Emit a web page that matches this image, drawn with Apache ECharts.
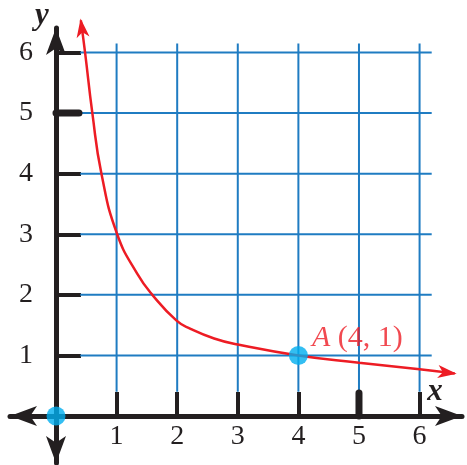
<!DOCTYPE html>
<html lang="en">
<head>
<meta charset="UTF-8">
<title>y = k / x</title>
<style>
    html, body { margin: 0; padding: 0; background: #fff; }
    #chart { width: 467px; height: 465px; }
</style>
</head>
<body>
<div id="chart"></div>
<script src="https://cdn.jsdelivr.net/npm/echarts@6/dist/echarts.min.js"></script>
<script>
    // curve, first and last point are the arrow tips
    var curveX = [0.41, 0.48, 0.6, 0.75, 1.01, 1.34, 1.59, 1.99, 2.22, 2.61, 3.0, 4.0, 5.0, 6.0, 6.58];
    var curveY = [6.53, 6.0, 5.0, 4.0, 3.0, 2.35, 2.0, 1.575, 1.44, 1.28, 1.18, 1.0, 0.88, 0.77, 0.70];

    // marked points
    var pointNames = ['O', 'A'];
    var pointX = [0, 4];
    var pointY = [0, 1];

    // ticks / grid
    var tickValues = [1, 2, 3, 4, 5, 6];
    var heavyTicks = [5];
    var gridValues = [1, 2, 3, 4, 5, 6];

    var INK = '#231f20';
    var BLUE = '#1f7cc2';
    var RED = '#ed1c24';
    var DOT = '#00aeef';
    var SERIF = '"Liberation Serif", "DejaVu Serif", serif';

    var curveData = curveX.map(function (x, i) { return [x, curveY[i]]; });
    var n = curveData.length;
    // [tailX, tailY, tipX, tipY]
    var arrowData = [
        curveData[1].concat(curveData[0]),
        curveData[n - 2].concat(curveData[n - 1])
    ];
    var pointData = pointNames.map(function (name, i) {
        var item = { name: name, value: [pointX[i], pointY[i]] };
        if (name === 'A') {
            item.label = {
                show: true,
                position: [23, -23],
                formatter: '{i|A} (' + pointX[i] + ', ' + pointY[i] + ')',
                color: RED,
                fontFamily: SERIF,
                fontSize: 30,
                rich: { i: { fontStyle: 'italic', color: RED, fontFamily: SERIF, fontSize: 30 } }
            };
        }
        return item;
    });

    var myChart = echarts.init(document.getElementById('chart'));

    var option = {
        animation: false,
        grid: { left: 10, right: 5, top: 28, bottom: 2, outerBoundsMode: 'none', containLabel: false },
        xAxis: {
            type: 'value',
            min: -0.759,
            max: 6.70,
            axisLine: {
                onZero: true,
                symbol: ['arrow', 'arrow'],
                symbolSize: [15, 27],
                lineStyle: { color: INK, width: 5 }
            },
            axisTick: { customValues: tickValues, inside: true, length: 24, lineStyle: { color: INK, width: 4 } },
            axisLabel: { show: false },
            splitLine: { show: false }
        },
        yAxis: {
            type: 'value',
            min: -0.776,
            max: 6.405,
            axisLine: {
                onZero: true,
                symbol: ['arrow', 'arrow'],
                symbolSize: [15, 27],
                lineStyle: { color: INK, width: 5 }
            },
            axisTick: { customValues: tickValues, inside: true, length: 25, lineStyle: { color: INK, width: 4 } },
            axisLabel: { show: false },
            splitLine: { show: false }
        },
        graphic: [
            { type: 'text', x: 42, y: 16, style: { text: 'y', font: 'italic bold 31px ' + SERIF, fill: INK, align: 'center', verticalAlign: 'middle' } },
            { type: 'text', x: 435, y: 392, style: { text: 'x', font: 'italic bold 31px ' + SERIF, fill: INK, align: 'center', verticalAlign: 'middle' } }
        ],
        series: [
            {
                // blue grid, shorter than the plot area
                type: 'custom',
                silent: true,
                z: 1,
                data: gridValues.map(function (v) { return [v, v]; }),
                renderItem: function (params, api) {
                    var v = api.value(0);
                    var a = api.coord([v, 0.4]), b = api.coord([v, 6.15]);
                    var c = api.coord([0.4, v]), d = api.coord([6.2, v]);
                    return {
                        type: 'group',
                        children: [
                            { type: 'line', shape: { x1: a[0], y1: a[1], x2: b[0], y2: b[1] }, style: { stroke: BLUE, lineWidth: 2 } },
                            { type: 'line', shape: { x1: c[0], y1: c[1], x2: d[0], y2: d[1] }, style: { stroke: BLUE, lineWidth: 2 } }
                        ]
                    };
                }
            },
            {
                // tick labels, sitting next to the zero lines
                type: 'custom',
                silent: true,
                z: 2,
                data: tickValues.map(function (v) { return [v, v]; }),
                renderItem: function (params, api) {
                    var v = api.value(0);
                    var a = api.coord([v, 0]);
                    var b = api.coord([0, v]);
                    return {
                        type: 'group',
                        children: [
                            { type: 'text', x: a[0], y: a[1] + 7, style: { text: String(v), font: '28px ' + SERIF, fill: INK, align: 'center', verticalAlign: 'top' } },
                            { type: 'text', x: b[0] - 23, y: b[1], style: { text: String(v), font: '28px ' + SERIF, fill: INK, align: 'right', verticalAlign: 'middle' } }
                        ]
                    };
                }
            },
            {
                // heavier tick marks
                type: 'custom',
                silent: true,
                z: 2,
                data: heavyTicks.map(function (v) { return [v, v]; }),
                renderItem: function (params, api) {
                    var v = api.value(0);
                    var a = api.coord([v, 0]);
                    var b = api.coord([0, v]);
                    return {
                        type: 'group',
                        children: [
                            { type: 'line', shape: { x1: a[0], y1: a[1], x2: a[0], y2: a[1] - 23 }, style: { stroke: INK, lineWidth: 7, lineCap: 'round' } },
                            { type: 'line', shape: { x1: b[0], y1: b[1], x2: b[0] + 23, y2: b[1] }, style: { stroke: INK, lineWidth: 7, lineCap: 'round' } }
                        ]
                    };
                }
            },
            {
                type: 'line',
                data: curveData,
                smooth: 0.5,
                showSymbol: false,
                clip: false,
                silent: true,
                z: 3,
                lineStyle: { color: RED, width: 2.5 }
            },
            {
                // arrow heads on the curve
                type: 'custom',
                silent: true,
                z: 4,
                data: arrowData,
                renderItem: function (params, api) {
                    var t = api.coord([api.value(0), api.value(1)]);
                    var h = api.coord([api.value(2), api.value(3)]);
                    var ang = Math.atan2(h[1] - t[1], h[0] - t[0]);
                    var cos = Math.cos(ang), sin = Math.sin(ang);
                    var local = [[2, 0], [-17, -6.5], [-12, 0], [-17, 6.5]];
                    var pts = local.map(function (p) {
                        return [h[0] + p[0] * cos - p[1] * sin, h[1] + p[0] * sin + p[1] * cos];
                    });
                    return { type: 'polygon', shape: { points: pts }, style: { fill: RED } };
                }
            },
            {
                type: 'scatter',
                data: pointData,
                symbolSize: 19,
                silent: true,
                z: 5,
                itemStyle: { color: DOT },
                label: { show: false }
            }
        ]
    };

    myChart.setOption(option);
</script>
</body>
</html>
